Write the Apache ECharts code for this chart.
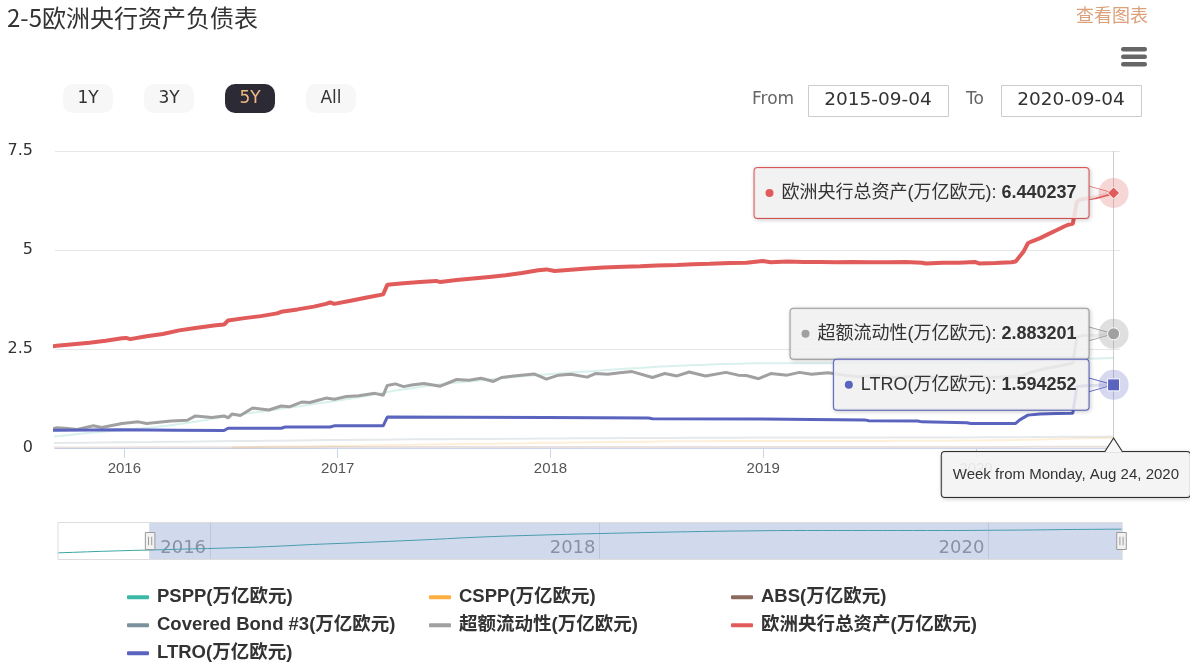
<!DOCTYPE html>
<html><head><meta charset="utf-8">
<script src="https://cdn.jsdelivr.net/npm/echarts@6/dist/echarts.min.js"></script>
<style>html,body{margin:0;padding:0;background:#fff}#c{width:1190px;height:665px}</style>
</head><body><div id="c"></div>
<script>
// ---------- DATA ----------
const titleText = '2-5欧洲央行资产负债表';
const rangeButtons = ['1Y', '3Y', '5Y', 'All'];
const activeButton = '5Y';
const rangeFrom = '2015-09-04';
const rangeTo = '2020-09-04';
const yearTicks = ['2016-01-01', '2017-01-01', '2018-01-01', '2019-01-01', '2020-01-01'];
const navYearTicks = ['2016-01-01', '2018-01-01', '2020-01-01'];

const names = {
  pspp: 'PSPP(万亿欧元)', cspp: 'CSPP(万亿欧元)', abs: 'ABS(万亿欧元)',
  covered: 'Covered Bond #3(万亿欧元)', liq: '超额流动性(万亿欧元)',
  assets: '欧洲央行总资产(万亿欧元)', ltro: 'LTRO(万亿欧元)'
};

// every 4 weeks (shared by the smooth purchase-programme series)
const monthDates = ['2015-03-16','2015-04-13','2015-05-11','2015-06-08','2015-07-06','2015-08-03','2015-08-31','2015-09-28','2015-10-26','2015-11-23','2015-12-21',
 '2016-01-18','2016-02-15','2016-03-14','2016-04-11','2016-05-09','2016-06-06','2016-07-04','2016-08-01','2016-08-29','2016-09-26','2016-10-24','2016-11-21','2016-12-19',
 '2017-01-16','2017-02-13','2017-03-13','2017-04-10','2017-05-08','2017-06-05','2017-07-03','2017-07-31','2017-08-28','2017-09-25','2017-10-23','2017-11-20','2017-12-18',
 '2018-01-15','2018-02-12','2018-03-12','2018-04-09','2018-05-07','2018-06-04','2018-07-02','2018-07-30','2018-08-27','2018-09-24','2018-10-22','2018-11-19','2018-12-17',
 '2019-01-14','2019-02-11','2019-03-11','2019-04-08','2019-05-06','2019-06-03','2019-07-01','2019-07-29','2019-08-26','2019-09-23','2019-10-21','2019-11-18','2019-12-16',
 '2020-01-13','2020-02-10','2020-03-09','2020-04-06','2020-05-04','2020-06-01','2020-06-29','2020-07-27','2020-08-24'];
const psppValues = [0.03,0.08,0.13,0.18,0.22,0.26,0.29,0.33,0.37,0.41,0.44,
 0.48,0.52,0.56,0.62,0.68,0.75,0.82,0.88,0.93,0.99,1.05,1.11,1.17,
 1.23,1.30,1.37,1.45,1.51,1.57,1.62,1.66,1.70,1.74,1.78,1.82,1.85,
 1.88,1.91,1.94,1.97,2.00,2.02,2.05,2.07,2.09,2.10,2.12,2.13,2.14,
 2.14,2.14,2.14,2.14,2.14,2.14,2.14,2.14,2.14,2.14,2.14,2.15,2.16,
 2.17,2.18,2.19,2.21,2.23,2.24,2.25,2.26,2.27];
const csppValues = [null,null,null,null,null,null,null,null,null,null,null,
 null,null,null,null,null,null,0.01,0.02,0.03,0.035,0.04,0.045,0.05,
 0.055,0.06,0.07,0.075,0.08,0.09,0.095,0.10,0.105,0.11,0.115,0.12,0.13,
 0.135,0.14,0.145,0.15,0.155,0.16,0.165,0.168,0.17,0.173,0.175,0.177,0.178,
 0.178,0.178,0.178,0.178,0.179,0.179,0.179,0.179,0.18,0.18,0.18,0.183,0.187,
 0.19,0.195,0.20,0.21,0.22,0.235,0.245,0.25,0.255];
const absValues = [0.005,0.006,0.007,0.008,0.009,0.010,0.011,0.012,0.013,0.014,0.015,
 0.016,0.017,0.018,0.018,0.019,0.019,0.020,0.020,0.021,0.021,0.022,0.022,0.023,
 0.023,0.024,0.024,0.024,0.025,0.025,0.025,0.025,0.026,0.026,0.026,0.026,0.027,
 0.027,0.027,0.027,0.027,0.028,0.028,0.028,0.028,0.028,0.028,0.027,0.027,0.027,
 0.027,0.027,0.026,0.026,0.026,0.026,0.026,0.026,0.026,0.026,0.026,0.027,0.027,
 0.027,0.028,0.028,0.029,0.029,0.030,0.030,0.030,0.031];
const coveredValues = [0.08,0.09,0.10,0.11,0.115,0.12,0.125,0.13,0.135,0.14,0.143,
 0.147,0.15,0.155,0.16,0.165,0.17,0.175,0.178,0.18,0.185,0.19,0.195,0.20,
 0.203,0.207,0.21,0.215,0.218,0.221,0.224,0.226,0.228,0.23,0.233,0.236,0.24,
 0.242,0.244,0.246,0.248,0.25,0.252,0.254,0.255,0.256,0.258,0.259,0.26,0.262,
 0.262,0.262,0.263,0.263,0.263,0.264,0.264,0.264,0.265,0.265,0.265,0.266,0.268,
 0.27,0.272,0.274,0.276,0.279,0.282,0.284,0.286,0.288];

const liqDates = ['2015-03-16','2015-06-15','2015-08-31','2015-09-07','2015-09-21','2015-10-12','2015-11-09','2015-11-23','2015-12-28',
 '2016-01-25','2016-02-08','2016-03-21','2016-04-18','2016-05-02','2016-05-30','2016-06-20','2016-06-27','2016-07-04','2016-07-18','2016-08-08',
 '2016-09-05','2016-09-26','2016-10-10','2016-10-31','2016-11-14','2016-12-05','2016-12-12','2016-12-26',
 '2017-01-16','2017-02-06','2017-03-06','2017-03-20','2017-03-27','2017-04-10','2017-04-24','2017-05-08','2017-05-29','2017-06-26',
 '2017-07-24','2017-08-14','2017-09-04','2017-09-25','2017-10-09','2017-10-30','2017-12-04','2017-12-25',
 '2018-01-15','2018-02-05','2018-03-05','2018-03-19','2018-04-09','2018-04-30','2018-05-21','2018-06-25','2018-07-16','2018-08-06',
 '2018-08-27','2018-09-24','2018-10-29','2018-11-19','2018-12-03','2018-12-24',
 '2019-01-14','2019-02-11','2019-03-04','2019-03-25','2019-04-22','2019-05-20','2019-06-17','2019-07-15','2019-08-12','2019-09-09',
 '2019-10-07','2019-11-04','2019-12-02','2019-12-30','2020-01-27','2020-02-24','2020-03-16','2020-04-06','2020-04-27','2020-05-18',
 '2020-06-08','2020-06-15','2020-06-22','2020-07-06','2020-07-27','2020-08-10','2020-08-24'];
const liqValues = [0.25,0.38,0.48,0.51,0.50,0.47,0.56,0.52,0.62,
 0.66,0.62,0.68,0.70,0.81,0.77,0.81,0.76,0.86,0.82,1.01,
 0.96,1.06,1.04,1.16,1.15,1.23,1.26,1.23,
 1.30,1.32,1.38,1.33,1.58,1.62,1.55,1.59,1.63,1.56,
 1.73,1.71,1.76,1.68,1.78,1.82,1.87,1.74,
 1.84,1.86,1.79,1.88,1.86,1.90,1.93,1.78,1.88,1.82,
 1.92,1.82,1.91,1.84,1.83,1.75,
 1.88,1.84,1.91,1.86,1.90,1.84,1.80,1.83,1.78,1.80,
 1.76,1.80,1.77,1.82,1.78,1.80,1.80,1.92,2.00,2.06,
 2.12,2.14,2.80,2.85,2.84,2.87,2.883201];

const assetsDates = ['2015-03-16','2015-05-04','2015-07-06','2015-09-07','2015-10-05','2015-11-02','2015-11-30','2015-12-28',
 '2016-01-04','2016-01-11','2016-02-08','2016-03-07','2016-04-04','2016-05-02','2016-06-06','2016-06-20','2016-06-27','2016-07-25',
 '2016-08-22','2016-09-19','2016-09-26','2016-10-24','2016-11-21','2016-12-12','2016-12-19','2016-12-26',
 '2017-01-23','2017-02-20','2017-03-20','2017-03-27','2017-04-24','2017-05-22','2017-06-19','2017-06-26','2017-07-24','2017-08-21',
 '2017-09-18','2017-10-16','2017-11-13','2017-12-11','2017-12-25',
 '2018-01-08','2018-02-05','2018-03-05','2018-04-02','2018-05-07','2018-06-04','2018-07-02','2018-08-06','2018-09-03','2018-10-01',
 '2018-11-05','2018-12-03','2018-12-31',
 '2019-01-14','2019-02-11','2019-03-11','2019-04-08','2019-05-06','2019-06-03','2019-07-01','2019-08-05','2019-09-02','2019-09-30',
 '2019-10-07','2019-11-04','2019-12-02','2019-12-30',
 '2020-01-06','2020-02-03','2020-03-02','2020-03-09','2020-03-23','2020-03-30','2020-04-06','2020-04-20','2020-05-04','2020-05-18',
 '2020-06-01','2020-06-08','2020-06-15','2020-06-22','2020-06-29','2020-07-13','2020-07-27','2020-08-10','2020-08-24'];
const assetsValues = [2.20,2.35,2.48,2.58,2.62,2.66,2.71,2.77,
 2.78,2.75,2.82,2.88,2.97,3.03,3.10,3.12,3.22,3.28,
 3.33,3.40,3.44,3.50,3.57,3.64,3.68,3.64,
 3.72,3.80,3.88,4.12,4.16,4.19,4.22,4.19,4.24,4.28,
 4.32,4.36,4.42,4.49,4.51,
 4.47,4.50,4.53,4.56,4.58,4.59,4.61,4.62,4.64,4.65,
 4.67,4.68,4.72,
 4.69,4.71,4.70,4.70,4.69,4.70,4.69,4.69,4.70,4.68,
 4.66,4.68,4.68,4.70,
 4.66,4.67,4.69,4.71,4.97,5.17,5.22,5.30,5.40,5.50,
 5.60,5.64,5.66,6.22,6.28,6.31,6.34,6.40,6.440237];

const ltroDates = ['2015-03-16','2015-06-29','2015-09-07','2015-12-28','2016-03-28','2016-06-20','2016-06-27','2016-09-26','2016-10-03',
 '2016-12-19','2016-12-26','2017-03-20','2017-03-27','2017-12-25','2018-06-18','2018-06-25','2018-12-31','2019-03-25','2019-06-24',
 '2019-07-01','2019-09-23','2019-09-30','2019-12-16','2019-12-23','2020-03-09','2020-03-16','2020-03-30','2020-04-20','2020-05-18',
 '2020-06-15','2020-06-22','2020-07-06','2020-08-24'];
const ltroValues = [0.40,0.44,0.45,0.46,0.45,0.44,0.50,0.50,0.53,
 0.53,0.56,0.56,0.78,0.77,0.76,0.74,0.73,0.72,0.71,
 0.69,0.68,0.66,0.64,0.62,0.62,0.71,0.83,0.86,0.87,
 0.88,1.55,1.57,1.594252];

// ---------- HELPERS ----------
const FONT = '"Liberation Sans","Noto Sans CJK SC",sans-serif';
const UIFONT = '"DejaVu Sans","Noto Sans CJK SC",sans-serif';
const ts = s => { const p = s.split('-').map(Number); return new Date(p[0], p[1] - 1, p[2]).getTime(); };
const pairs = (d, v) => d.map((x, i) => [ts(x), v[i]]);
const lastOf = (d, v) => [ts(d[d.length - 1]), v[v.length - 1]];
const MONTHS = ['Jan','Feb','Mar','Apr','May','Jun','Jul','Aug','Sep','Oct','Nov','Dec'];
const lastWeek = assetsDates[assetsDates.length - 1];
function weekLabel(s) { const p = s.split('-').map(Number); return 'Week from Monday, ' + MONTHS[p[1] - 1] + ' ' + p[2] + ', ' + p[0]; }

const C = { pspp:'#3cb8a6', cspp:'#fcb040', abs:'#8c6a5d', covered:'#7b929e', liq:'#a0a0a0', assets:'#e15b5b', ltro:'#5a64bf' };
const fade = h => { const n = parseInt(h.slice(1), 16); return 'rgba(' + (n >> 16) + ',' + ((n >> 8) & 255) + ',' + (n & 255) + ',0.2)'; };

function hover(name, color, halo, symbol, dates, vals, extra) {
  const c = lastOf(dates, vals);
  const data = [
    { coord: c, symbol: 'path://M0,0L25,7L0,14', symbolSize: [25, 14], symbolOffset: [-12.5, 0],
      itemStyle: { color: 'rgba(247,247,247,0.85)', borderColor: color, borderWidth: 1 }, label: { show: false } },
    { coord: c, symbol: 'circle', symbolSize: 30, itemStyle: { color: halo },
      label: { show: true, position: 'left', distance: 10,
        formatter: '{d| }{s| }{t|' + name + ': }{v|' + vals[vals.length - 1] + '}',
        backgroundColor: 'rgba(247,247,247,0.85)', borderColor: color, borderWidth: 1, borderRadius: 3,
        padding: [14, 12, 14, 11], shadowBlur: 4, shadowColor: 'rgba(0,0,0,0.18)', shadowOffsetX: 1, shadowOffsetY: 1,
        rich: {
          d: { width: 8, height: 8, borderRadius: 4, backgroundColor: color, fontSize: 1, lineHeight: 22 },
          s: { width: 8, fontSize: 18, lineHeight: 22 },
          t: { color: '#333', fontSize: 18, lineHeight: 22, fontFamily: FONT },
          v: { color: '#333', fontSize: 18, lineHeight: 22, fontWeight: 'bold', fontFamily: FONT }
        } } },
    { coord: c, symbol: symbol, symbolSize: 12, itemStyle: { color: color, borderColor: '#fff', borderWidth: 1 }, label: { show: false } }
  ];
  return { silent: true, animation: false, z: 60, data: data.concat(extra || []) };
}

// small notch of the date label, pointing up at the crosshair on the x axis
const notch = { coord: [ts(lastWeek), 0], symbol: 'path://M0,14L9,0L18,14', symbolSize: [18, 14], symbolOffset: [0, -3],
  itemStyle: { color: '#f7f7f7', borderColor: '#333', borderWidth: 1 }, label: { show: false } };

function line(key, data, opts) {
  return Object.assign({
    name: names[key], type: 'line', data: data, showSymbol: false, symbol: 'none', color: C[key],
    xAxisIndex: 0, yAxisIndex: 0, animation: false, silent: true, clip: true,
    lineStyle: { color: fade(C[key]), width: 2 }, z: 1
  }, opts || {});
}

const series = [
  line('pspp', pairs(monthDates, psppValues)),
  line('cspp', pairs(monthDates, csppValues)),
  line('abs', pairs(monthDates, absValues)),
  line('covered', pairs(monthDates, coveredValues)),
  line('liq', pairs(liqDates, liqValues), { lineStyle: { color: C.liq, width: 3 }, z: 3,
    markPoint: hover(names.liq, C.liq, 'rgba(150,150,150,0.3)', 'circle', liqDates, liqValues) }),
  line('assets', pairs(assetsDates, assetsValues), { lineStyle: { color: C.assets, width: 4 }, z: 3,
    markPoint: hover(names.assets, C.assets, 'rgba(225,91,91,0.25)', 'diamond', assetsDates, assetsValues) }),
  line('ltro', pairs(ltroDates, ltroValues), { lineStyle: { color: C.ltro, width: 3 }, z: 3,
    markPoint: hover(names.ltro, C.ltro, 'rgba(90,100,191,0.25)', 'rect', ltroDates, ltroValues, [notch]) })
];

const legendBase = { icon: 'roundRect', itemWidth: 22, itemHeight: 4, itemGap: 9.5, selectedMode: false, padding: 0, orient: 'vertical',
  textStyle: { fontSize: 18.5, fontWeight: 'bold', color: '#333', fontFamily: FONT, lineHeight: 18, padding: [0, 0, 0, 3] } };

const graphics = [];
rangeButtons.forEach((t, i) => {
  const on = t === activeButton;
  graphics.push({ type: 'rect', shape: { x: 63 + 81 * i, y: 84, width: 50, height: 29, r: 10 }, style: { fill: on ? '#2b2a35' : '#f7f7f7' } });
  graphics.push({ type: 'text', x: 88 + 81 * i, y: 99, style: { text: t, fontSize: 17, fontFamily: UIFONT, fill: on ? '#f0b984' : '#333', textAlign: 'center', textVerticalAlign: 'middle' } });
});
graphics.push(
  { type: 'text', x: 752, y: 100, style: { text: 'From', fontSize: 17, fontFamily: UIFONT, fill: '#666', textVerticalAlign: 'middle' } },
  { type: 'rect', shape: { x: 808.5, y: 85.5, width: 140, height: 31 }, style: { fill: '#fff', stroke: '#ccc', lineWidth: 1 } },
  { type: 'text', x: 878, y: 100, style: { text: rangeFrom, fontSize: 18.5, fontFamily: UIFONT, fill: '#333', textAlign: 'center', textVerticalAlign: 'middle' } },
  { type: 'text', x: 966, y: 100, style: { text: 'To', fontSize: 17, fontFamily: UIFONT, fill: '#666', textVerticalAlign: 'middle' } },
  { type: 'rect', shape: { x: 1001.5, y: 85.5, width: 140, height: 31 }, style: { fill: '#fff', stroke: '#ccc', lineWidth: 1 } },
  { type: 'text', x: 1071, y: 100, style: { text: rangeTo, fontSize: 18.5, fontFamily: UIFONT, fill: '#333', textAlign: 'center', textVerticalAlign: 'middle' } },
  { type: 'text', x: 1148, y: 15, style: { text: '查看图表', fontSize: 18, fontFamily: '"Noto Sans CJK SC",sans-serif', fill: '#dca07a', textAlign: 'right', textVerticalAlign: 'middle' } },
  { type: 'rect', shape: { x: 1121, y: 47, width: 26, height: 4.5, r: 2.2 }, style: { fill: '#666' } },
  { type: 'rect', shape: { x: 1121, y: 54.5, width: 26, height: 4.5, r: 2.2 }, style: { fill: '#666' } },
  { type: 'rect', shape: { x: 1121, y: 62, width: 26, height: 4.5, r: 2.2 }, style: { fill: '#666' } }
);

const option = {
  animation: false,
  backgroundColor: '#fff',
  textStyle: { fontFamily: FONT },
  title: { text: titleText, left: 7, top: 6, padding: 0,
    textStyle: { fontSize: 24, fontWeight: 'normal', color: '#333', fontFamily: '"Noto Sans CJK SC",sans-serif' } },
  graphic: graphics,
  legend: [
    Object.assign({}, legendBase, { left: 127, top: 588, data: [names.pspp, names.covered, names.ltro] }),
    Object.assign({}, legendBase, { left: 429, top: 588, data: [names.cspp, names.liq] }),
    Object.assign({}, legendBase, { left: 731, top: 588, data: [names.abs, names.assets] })
  ],
  grid: [
    { left: 55, right: 70, top: 151, height: 297, outerBoundsMode: 'none' },
    { left: 55, right: 70, top: 522, height: 38, outerBoundsMode: 'none' }
  ],
  xAxis: [
    { type: 'time', gridIndex: 0, max: ts(rangeTo),
      axisLine: { lineStyle: { color: '#ccd6eb' } },
      axisTick: { show: true, length: 10, lineStyle: { color: '#ccd6eb' }, customValues: yearTicks.map(ts) },
      axisLabel: { customValues: yearTicks.map(ts), formatter: '{yyyy}', color: '#555', fontSize: 15, margin: 13, fontFamily: FONT },
      splitLine: { show: false },
      axisPointer: { show: true, type: 'line', snap: false, status: 'show', value: ts(lastWeek), triggerTooltip: false, z: 50,
        lineStyle: { color: '#ccc', width: 1, type: 'solid' },
        label: { show: true, formatter: () => weekLabel(lastWeek), backgroundColor: 'rgba(247,247,247,0.9)', color: '#333',
          borderColor: '#333', borderWidth: 1, borderRadius: 3, padding: [15, 11], fontSize: 15, fontFamily: FONT, margin: 4,
          shadowBlur: 4, shadowColor: 'rgba(0,0,0,0.18)', shadowOffsetX: 1, shadowOffsetY: 1 },
        handle: { show: false } } },
    { type: 'time', gridIndex: 1, min: ts(monthDates[0]), max: ts(rangeTo),
      axisLine: { show: false }, axisTick: { show: false, customValues: navYearTicks.map(ts) },
      axisLabel: { inside: true, customValues: navYearTicks.map(ts), formatter: '{yyyy}', color: '#999', fontSize: 18,
        fontFamily: UIFONT, align: 'right', margin: 3, padding: [0, 4, 0, 0] },
      splitLine: { show: true, lineStyle: { color: '#e0e4ee', width: 1 } } }
  ],
  yAxis: [
    { type: 'value', gridIndex: 0, min: 0, max: 7.5, interval: 2.5,
      axisLine: { show: false }, axisTick: { show: false },
      axisLabel: { color: '#333', fontSize: 16, margin: 22, fontFamily: UIFONT },
      splitLine: { lineStyle: { color: '#e6e6e6', width: 1 } } },
    { type: 'value', gridIndex: 1, min: 0, max: 1, show: false }
  ],
  dataZoom: [{
    type: 'slider', xAxisIndex: 0, filterMode: 'none',
    startValue: ts(rangeFrom), endValue: ts(rangeTo),
    left: 55, right: 70, top: 522, height: 38,
    showDetail: false, brushSelect: false, moveHandleSize: 0,
    backgroundColor: 'rgba(0,0,0,0)', borderColor: '#ddd', borderRadius: 0,
    fillerColor: 'rgba(102,133,194,0.3)',
    handleIcon: 'path://M-4.5,-8L4.5,-8L4.5,8L-4.5,8Z M-1.5,-4L-1.5,4 M1.5,-4L1.5,4',
    handleSize: 17,
    handleStyle: { color: '#f2f2f2', borderColor: '#999', borderWidth: 1 },
    dataBackground: { lineStyle: { color: '#3aa6a4', width: 1, opacity: 1 }, areaStyle: { opacity: 0 } },
    selectedDataBackground: { lineStyle: { color: '#3aa6a4', width: 1, opacity: 1 }, areaStyle: { opacity: 0 } }
  }],
  series: series
};

const chart = echarts.init(document.getElementById('c'), null, { renderer: 'canvas' });
chart.setOption(option);
</script>
</body></html>
